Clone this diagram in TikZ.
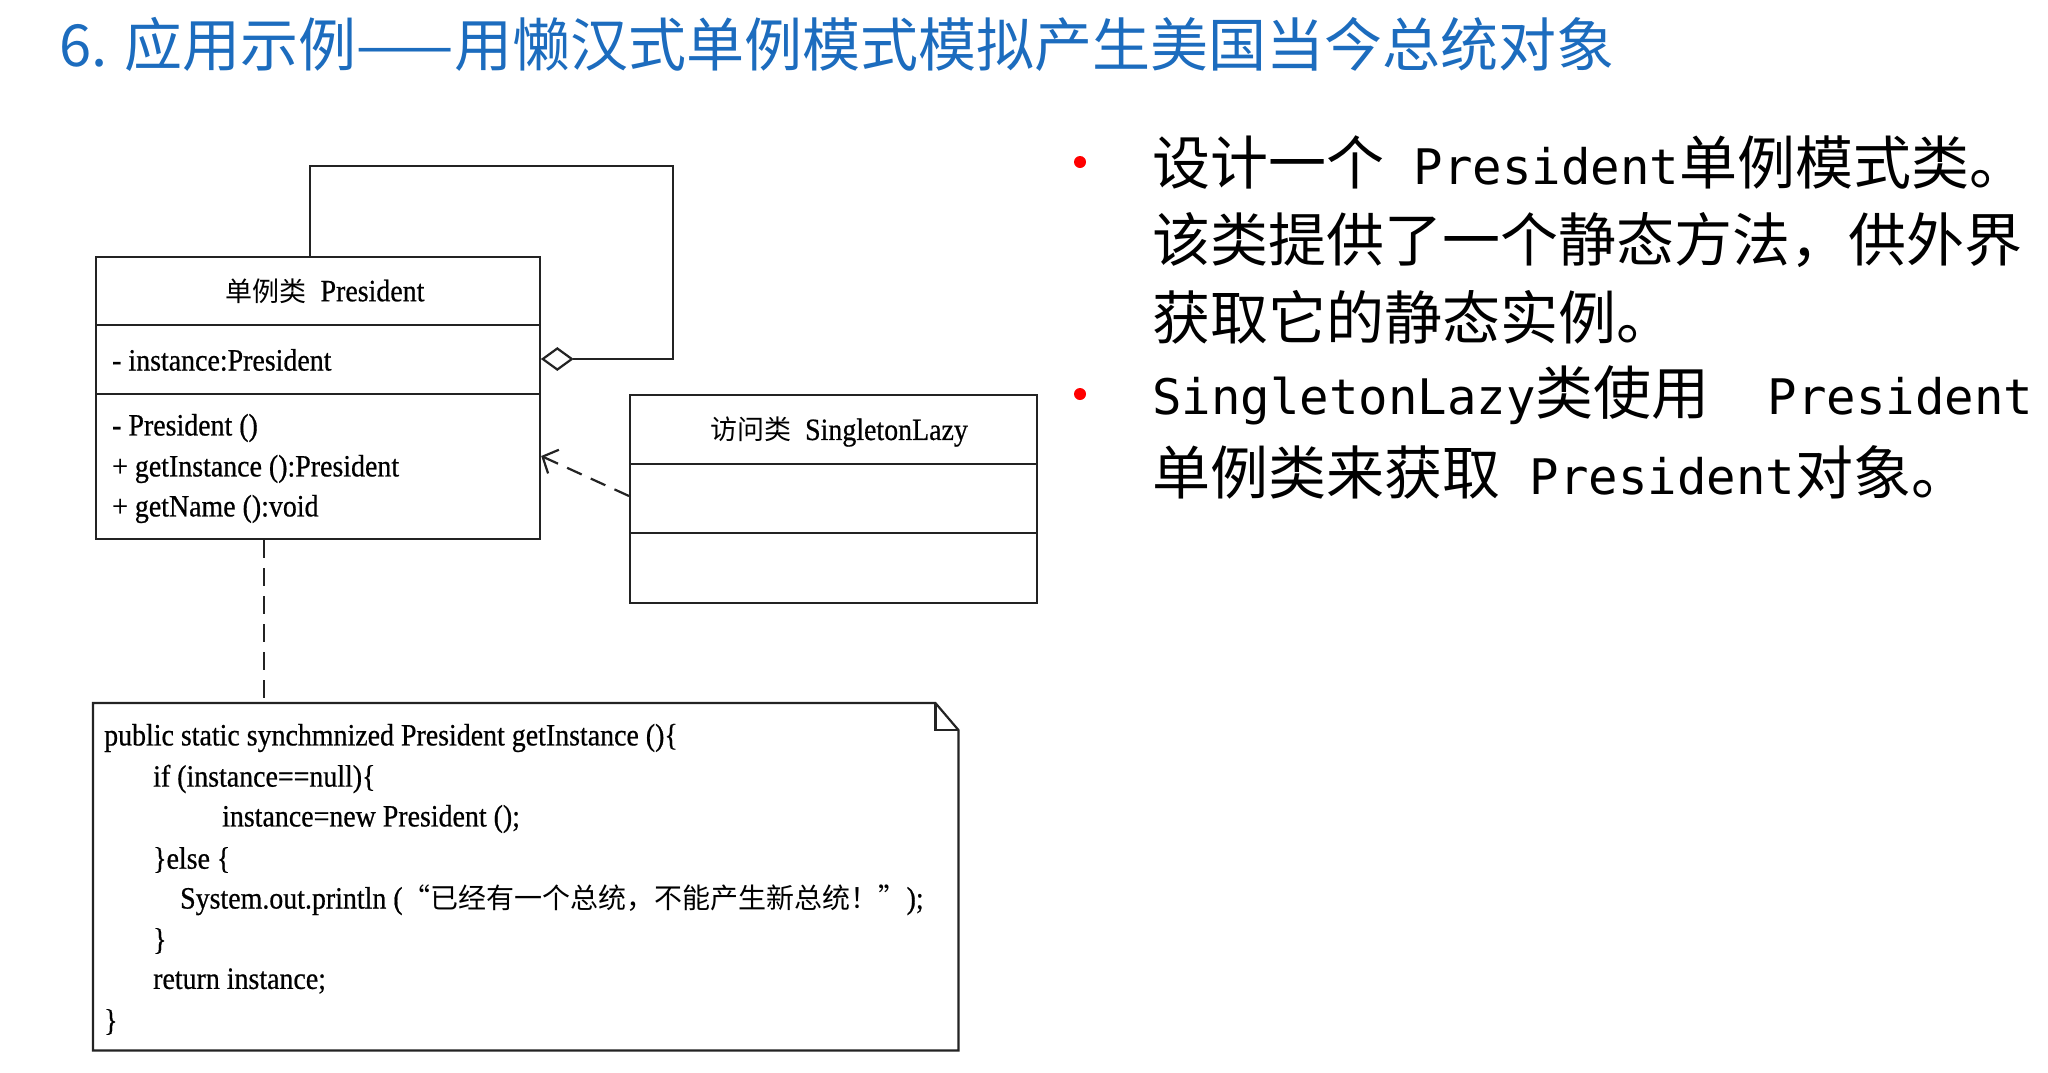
\documentclass[tikz,border=0pt]{standalone}
\usepackage{fontspec}
\setmainfont{Liberation Serif}
\newfontfamily\umlfont{Liberation Serif}[FakeStretch=0.9, FakeBold=0.6]
\newfontfamily\cjk{Noto Sans CJK SC}
\newfontfamily\latm{DejaVu Sans Mono}[Scale=0.845]
\usetikzlibrary{arrows.meta,shapes.geometric,calc}
\definecolor{titleblue}{RGB}{28,108,190}
\definecolor{inkgray}{RGB}{35,35,35}
\newcommand\umlcjk[1]{{\cjk\fontsize{27}{30}\selectfont #1}}

\begin{document}
\begin{tikzpicture}[x=1pt,y=-1pt,
  umlline/.style={draw=inkgray, line width=2.2pt},
  classbox/.style={umlline, rectangle, inner sep=0pt},
  umltext/.style={inner sep=0pt, text=black, font=\umlfont\fontsize{31}{36}\selectfont},
  codeline/.style={umltext, anchor=west},
  depline/.style={umlline, dash pattern=on 16pt off 10pt,
    -{Straight Barb[length=12pt,width=26pt,line width=2.2pt]}},
  bullettext/.style={inner sep=0pt, anchor=west, font=\cjk\fontsize{58}{70}\selectfont},
  bulletdot/.style={circle, fill=red, inner sep=0pt, minimum size=12pt},
]
\useasboundingbox[fill=white] (0,0) rectangle (2048,1072);

% heading
\node[anchor=west, inner sep=0pt, text=titleblue, font=\cjk\fontsize{58}{64}\selectfont]
  (title) at (59,44) {6. 应用示例——用懒汉式单例模式模拟产生美国当今总统对象};

% singleton class
\node[classbox, minimum width=444pt, minimum height=282pt, anchor=north west] (pres) at (95,256) {};
\draw[umlline] (pres.west |- 0,325) -- (pres.east |- 0,325);
\draw[umlline] (pres.west |- 0,394) -- (pres.east |- 0,394);
\node[umltext] (presname) at (325,291) {\umlcjk{单例类}\hspace{14pt}President};
\node[codeline] (attr) at (112,360) {- instance:President};
\node[codeline] (m1) at (112,428) {- President ()};
\node[codeline] (m2) at (112,469) {+ getInstance ():President};
\node[codeline] (m3) at (112,509) {+ getName ():void};

% client class
\node[classbox, minimum width=407pt, minimum height=208pt, anchor=north west] (sl) at (629,394) {};
\draw[umlline] (sl.west |- 0,464) -- (sl.east |- 0,464);
\draw[umlline] (sl.west |- 0,533) -- (sl.east |- 0,533);
\node[umltext] (slname) at (839,432) {\umlcjk{访问类}\hspace{14pt}SingletonLazy};

% self aggregation
\node[umlline, diamond, inner sep=0pt, minimum width=30pt, minimum height=22pt, fill=white, anchor=west]
  (agg) at (pres.east |- 0,359) {};
\coordinate (loopR) at (673,359);
\coordinate (loopTR) at (673,166);
\coordinate (loopTL) at (310,166);
\draw[umlline] (agg.east) -- (loopR) -- (loopTR) -- (loopTL) -- (pres.north -| loopTL);

% dependency
\draw[depline] (sl.west |- 0,496) -- (pres.east |- 0,456);

% note
\node[inner sep=0pt, minimum width=865pt, minimum height=347pt, anchor=north west] (note) at (93,703) {};
\draw[umlline] (note.north west) -- ([xshift=-23pt]note.north east) -- ([yshift=-27pt]note.north east)
  -- (note.south east) -- (note.south west) -- cycle;
\draw[umlline] ([xshift=-23pt]note.north east) -- ++(0,27) -- ++(23,0);
\draw[umlline, dash pattern=on 18pt off 10pt] (pres.south -| 264,0) -- (note.north -| 264,0);

\node[codeline] (c1) at (104,738) {public static synchmnized President getInstance ()\{};
\node[codeline] (c2) at (153,779) {if (instance==null)\{};
\node[codeline] (c3) at (222,819) {instance=new President ();};
\node[codeline] (c4) at (153,860) {\}else \{};
\node[codeline] (c5) at (180,900) {System.out.println ({\cjk\fontsize{28}{30}\selectfont “已经有一个总统，不能产生新总统！”});};
\node[codeline] (c6) at (153,941) {\}};
\node[codeline] (c7) at (153,981) {return instance;};
\node[codeline] (c8) at (104,1022) {\}};

% bullet list
\node[bulletdot] (d1) at (1080,162) {};
\node[bullettext] (t1) at (1152,163) {设计一个{\latm{} President}单例模式类。};
\node[bullettext] (t2) at (1152,240) {该类提供了一个静态方法，供外界};
\node[bullettext] (t3) at (1152,317) {获取它的静态实例。};
\node[bulletdot] (d2) at (1080,394) {};
\node[bullettext] (t4) at (1152,395) {{\latm SingletonLazy}类使用\hspace{1em}{\latm President}};
\node[bullettext] (t5) at (1152,472) {单例类来获取{\latm{} President}对象。};
\end{tikzpicture}
\end{document}
